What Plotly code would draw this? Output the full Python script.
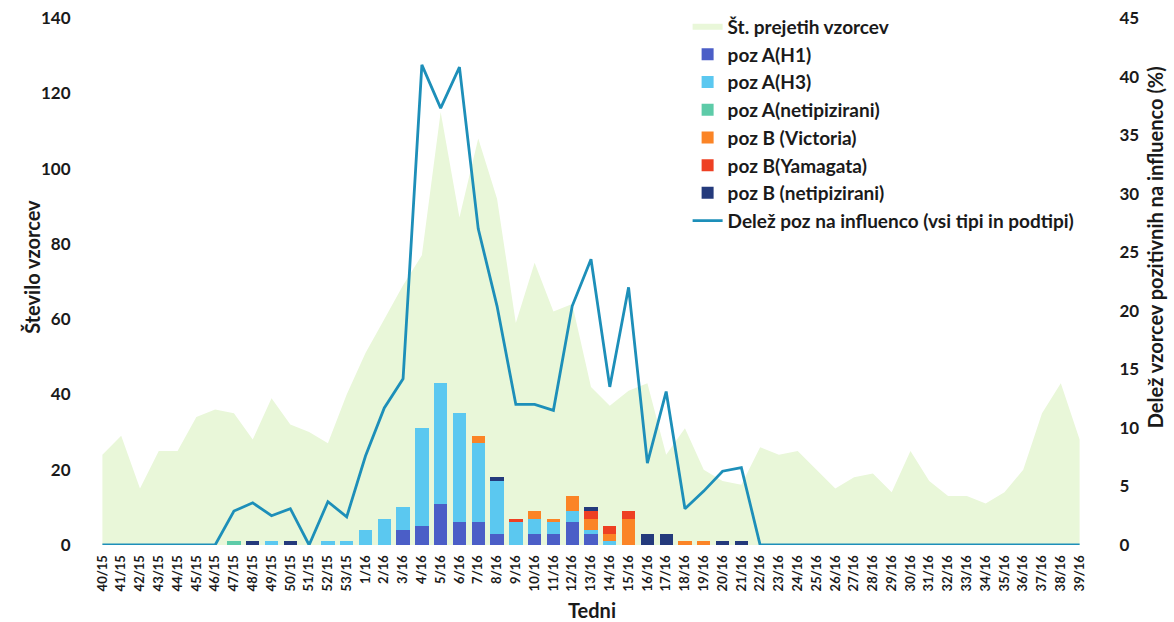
import plotly.graph_objects as go

weeks = ["40/15", "41/15", "42/15", "43/15", "44/15", "45/15", "46/15", "47/15", "48/15", "49/15",
         "50/15", "51/15", "52/15", "53/15", "1/16", "2/16", "3/16", "4/16", "5/16", "6/16",
         "7/16", "8/16", "9/16", "10/16", "11/16", "12/16", "13/16", "14/16", "15/16", "16/16",
         "17/16", "18/16", "19/16", "20/16", "21/16", "22/16", "23/16", "24/16", "25/16", "26/16",
         "27/16", "28/16", "29/16", "30/16", "31/16", "32/16", "33/16", "34/16", "35/16", "36/16",
         "37/16", "38/16", "39/16"]

samples = [24, 29, 15, 25, 25, 34, 36, 35, 28, 39, 32, 30, 27, 40,
           51, 60, 69, 77, 115, 87, 108, 92, 59, 75, 62, 64, 42,
           37, 41, 43, 24, 31, 20, 17, 16, 26, 24, 25, 20, 15,
           18, 19, 14, 25, 17, 13, 13, 11, 14, 20, 35, 43, 28]

pos_a_h1 = [0, 0, 0, 0, 0, 0, 0, 0, 0, 0, 0, 0, 0, 0,
            0, 0, 4, 5, 11, 6, 6, 3, 0, 3, 3, 6, 3,
            0, 0, 0, 0, 0, 0, 0, 0, 0, 0, 0, 0, 0,
            0, 0, 0, 0, 0, 0, 0, 0, 0, 0, 0, 0, 0]

pos_a_h3 = [0, 0, 0, 0, 0, 0, 0, 0, 0, 1, 0, 0, 1, 1,
            4, 7, 6, 26, 32, 29, 21, 14, 6, 4, 3, 3, 1,
            1, 0, 0, 0, 0, 0, 0, 0, 0, 0, 0, 0, 0,
            0, 0, 0, 0, 0, 0, 0, 0, 0, 0, 0, 0, 0]

pos_a_netip = [0, 0, 0, 0, 0, 0, 0, 1, 0, 0, 0, 0, 0, 0,
               0, 0, 0, 0, 0, 0, 0, 0, 0, 0, 0, 0, 0,
               0, 0, 0, 0, 0, 0, 0, 0, 0, 0, 0, 0, 0,
               0, 0, 0, 0, 0, 0, 0, 0, 0, 0, 0, 0, 0]

pos_b_victoria = [0, 0, 0, 0, 0, 0, 0, 0, 0, 0, 0, 0, 0, 0,
                  0, 0, 0, 0, 0, 0, 2, 0, 0, 2, 1, 4, 3,
                  2, 7, 0, 0, 1, 1, 0, 0, 0, 0, 0, 0, 0,
                  0, 0, 0, 0, 0, 0, 0, 0, 0, 0, 0, 0, 0]

pos_b_yamagata = [0, 0, 0, 0, 0, 0, 0, 0, 0, 0, 0, 0, 0, 0,
                  0, 0, 0, 0, 0, 0, 0, 0, 1, 0, 0, 0, 2,
                  2, 2, 0, 0, 0, 0, 0, 0, 0, 0, 0, 0, 0,
                  0, 0, 0, 0, 0, 0, 0, 0, 0, 0, 0, 0, 0]

pos_b_netip = [0, 0, 0, 0, 0, 0, 0, 0, 1, 0, 1, 0, 0, 0,
               0, 0, 0, 0, 0, 0, 0, 1, 0, 0, 0, 0, 1,
               0, 0, 3, 3, 0, 0, 1, 1, 0, 0, 0, 0, 0,
               0, 0, 0, 0, 0, 0, 0, 0, 0, 0, 0, 0, 0]

share_pct = [0, 0, 0, 0, 0, 0, 0, 2.9, 3.6, 2.5, 3.1, 0, 3.7, 2.4,
             7.6, 11.7, 14.2, 41.0, 37.3, 40.8, 27.0, 20.4, 12.0, 12.0, 11.5, 20.4, 24.4,
             13.5, 22.0, 7.0, 13.1, 3.1, 4.6, 6.3, 6.6, 0, 0, 0, 0, 0,
             0, 0, 0, 0, 0, 0, 0, 0, 0, 0, 0, 0, 0]

left_title = "Število vzorcev"
right_title = "Delež vzorcev pozitivnih na influenco (%)"
x_title = "Tedni"

FONT = "Lato"
TXT = "#1a1a1a"

fig = go.Figure()

fig.add_trace(go.Scatter(
    x=weeks, y=samples, name="Št. prejetih vzorcev", mode="none",
    fill="tozeroy", fillcolor="#E9F7D9",
    xaxis="x", yaxis="y"))

bar_series = [
    ("poz A(H1)", pos_a_h1, "#4B5EC7"),
    ("poz A(H3)", pos_a_h3, "#5BC8F0"),
    ("poz A(netipizirani)", pos_a_netip, "#5DCBA8"),
    ("poz B (Victoria)", pos_b_victoria, "#FB8426"),
    ("poz B(Yamagata)", pos_b_yamagata, "#EE4023"),
    ("poz B (netipizirani)", pos_b_netip, "#243A7C"),
]
for name, vals, col in bar_series:
    fig.add_trace(go.Bar(
        x=weeks, y=vals, name=name, marker=dict(color=col, line=dict(width=0)),
        xaxis="x", yaxis="y2"))

fig.add_trace(go.Scatter(
    x=weeks, y=share_pct, name="Delež poz na influenco (vsi tipi in podtipi)",
    mode="lines", line=dict(color="#1D8FB9", width=2.8),
    xaxis="x", yaxis="y3"))

title_font = dict(size=20, family=FONT, color=TXT, weight="bold")

fig.update_layout(
    width=1174, height=622,
    margin=dict(l=93, r=85, t=18, b=77, autoexpand=False),
    paper_bgcolor="white", plot_bgcolor="white",
    font=dict(family=FONT, color=TXT, size=15, weight="bold"),
    barmode="stack", bargap=0.29,
    showlegend=True,
    legend=dict(x=0.597, y=1.0194, xanchor="left", yanchor="top",
                font=dict(family=FONT, size=19, color=TXT, weight="bold"),
                bgcolor="rgba(0,0,0,0)", traceorder="normal"),
    xaxis=dict(type="category", categoryorder="array", categoryarray=weeks,
               range=[-0.5, len(weeks) - 0.5], automargin=False,
               tickangle=-90, tickfont=dict(size=13, family=FONT, color=TXT, weight="bold"),
               ticks="outside", ticklen=4, tickcolor="rgba(0,0,0,0)",
               showgrid=False, showline=False, zeroline=False),
    yaxis=dict(range=[0, 140], dtick=20, showgrid=False, zeroline=False, showline=False,
               automargin=False,
               ticks="outside", ticklen=18, tickcolor="rgba(0,0,0,0)",
               tickfont=dict(size=17, family=FONT, color=TXT, weight="bold")),
    yaxis2=dict(range=[0, 140], overlaying="y", visible=False, showgrid=False, zeroline=False),
    yaxis3=dict(range=[0, 45], dtick=5, overlaying="y", side="right",
                showgrid=False, zeroline=False, showline=False, automargin=False,
                ticks="outside", ticklen=26, tickcolor="rgba(0,0,0,0)",
                tickfont=dict(size=17, family=FONT, color=TXT, weight="bold")),
    annotations=[
        dict(text=left_title, xref="paper", yref="paper", x=-0.0612, y=0.528,
             xanchor="center", yanchor="middle", textangle=-90, showarrow=False,
             font=title_font),
        dict(text=right_title, xref="paper", yref="paper", x=1.0663, y=0.565,
             xanchor="center", yanchor="middle", textangle=-90, showarrow=False,
             font=title_font),
        dict(text=x_title, xref="paper", yref="paper", x=0.501, y=-0.1225,
             xanchor="center", yanchor="middle", showarrow=False,
             font=title_font),
    ],
)

fig.write_html("out.html", config={"displayModeBar": False},
               post_script="document.body.style.margin='0px';")
